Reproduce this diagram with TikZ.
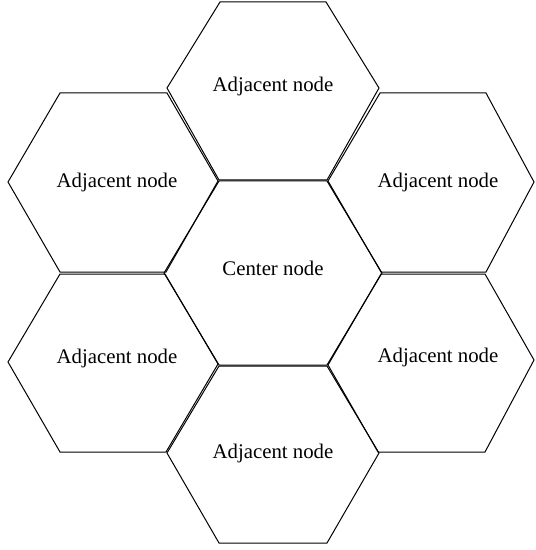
\documentclass[tikz,border=0pt]{standalone}
\usepackage{fontspec}
\setmainfont{Liberation Serif}
\begin{document}
\begin{tikzpicture}[x=0.5pt,y=-0.5pt,
  hex/.style={draw=black,line width=0.5pt,line join=miter},
  lbl/.style={font=\fontsize{10.4}{12}\selectfont,inner sep=0pt}]
\useasboundingbox (0,0) rectangle (535,550);
% hexagons
\draw[hex] (167,88) -- (220,2) -- (326,2) -- (379,88) -- (327,180) -- (219,180) -- cycle;
\draw[hex] (8,182) -- (60,93) -- (167,93) -- (218,181) -- (166,272) -- (60,272) -- cycle;
\draw[hex] (328,181) -- (380,93) -- (486,93) -- (534,182) -- (486,272) -- (381,272) -- cycle;
\draw[hex] (164,273) -- (219,181) -- (327,181) -- (382,273) -- (327,365) -- (219,365) -- cycle;
\draw[hex] (8,362) -- (60,274) -- (165,274) -- (218,364) -- (166,452) -- (60,452) -- cycle;
\draw[hex] (328,365) -- (381,274) -- (485,274) -- (534,360) -- (485,452) -- (378,452) -- cycle;
\draw[hex] (167,453) -- (219,366) -- (327,366) -- (379,453) -- (327,543) -- (219,543) -- cycle;
% labels
\node[lbl] (top) at (273,87) {Adjacent node};
\node[lbl] (lt) at (117,182) {Adjacent node};
\node[lbl] (rt) at (438,182) {Adjacent node};
\node[lbl] (ctr) at (273,268) {Center node};
\node[lbl] (lb) at (117,358) {Adjacent node};
\node[lbl] (rb) at (438,357) {Adjacent node};
\node[lbl] (bot) at (273,453) {Adjacent node};
\end{tikzpicture}
\end{document}
